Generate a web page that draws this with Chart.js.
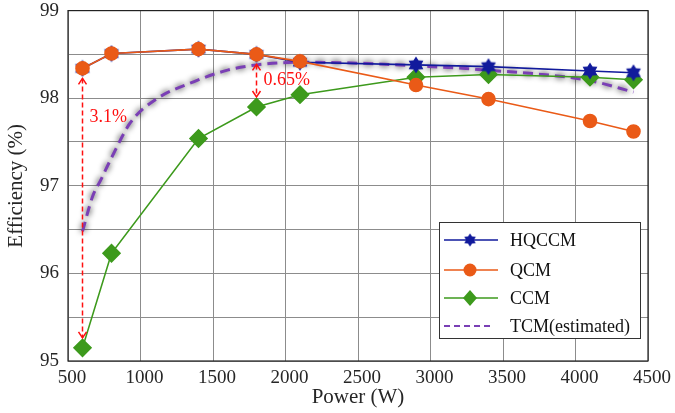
<!DOCTYPE html>
<html>
<head>
<meta charset="utf-8">
<script src="https://cdn.jsdelivr.net/npm/chart.js@4"></script>
<style>
  body { margin: 0; background: #fff; }
  canvas { display: block; }
</style>
</head>
<body>
<canvas id="eff" width="675" height="413"></canvas>
<script>
// measured efficiency vs. output power
const power = [600, 800, 1400, 1800, 2100, 2900, 3400, 4100, 4400];
const hqccm = [98.34, 98.51, 98.56, 98.50, 98.41, 98.38, 98.36, 98.31, 98.29];
const qcm = [98.34, 98.51, 98.56, 98.50, 98.42, 98.15, 97.99, 97.74, 97.62];
const ccm = [95.15, 96.23, 97.54, 97.90, 98.04, 98.24, 98.27, 98.24, 98.21];

// estimated TCM curve
const tcmPower = [600, 670, 730, 800, 930, 1100, 1370, 1600, 1800, 2100, 2500, 2900, 3400, 4100, 4400];
const tcm = [96.48, 96.88, 97.08, 97.32, 97.72, 97.98, 98.19, 98.32, 98.38, 98.41, 98.40, 98.37, 98.32, 98.20, 98.07];

const seriesNames = ["HQCCM", "QCM", "CCM", "TCM(estimated)"];
const xTicks = [500, 4500, 500];   // min, max, step
const yTicks = [95, 99, 0.5];

// gap annotations: [power, upper series, lower series, text]
const gaps = [
  [600, hqccm, ccm, "3.1%"],
  [1800, hqccm, ccm, "0.65%"],
];

const SERIF = "'Liberation Serif', 'Times New Roman', serif";
const NAVY = "#111a9c";
const ORANGE = "#ea5a17";
const GREEN = "#3d9a1c";
const PURPLE = "#7a3fb5";

function toPoints(xs, ys) {
  return xs.map((x, i) => ({ x: x, y: ys[i] }));
}

// six-pointed star marker
function starMarker(size, color) {
  const c = document.createElement("canvas");
  c.width = c.height = size;
  const g = c.getContext("2d");
  const cx = size / 2, cy = size / 2, ro = size / 2 - 0.5, ri = ro * 0.6;
  g.beginPath();
  for (let i = 0; i < 12; i++) {
    const r = i % 2 === 0 ? ro : ri;
    const a = -Math.PI / 2 + i * Math.PI / 6;
    const px = cx + r * Math.cos(a), py = cy + r * Math.sin(a);
    i === 0 ? g.moveTo(px, py) : g.lineTo(px, py);
  }
  g.closePath();
  g.fillStyle = color;
  g.fill();
  return c;
}
const star = starMarker(18, NAVY);

// soft grey glow under the estimated curve
const haloPlugin = {
  id: "halo",
  beforeDatasetDraw(chart, args) {
    const ds = chart.data.datasets[args.index];
    if (!ds.halo) return;
    const ctx = chart.ctx;
    ctx.save();
    ctx.shadowColor = "rgba(0,0,0,1)";
    ctx.shadowBlur = 6;
  },
  afterDatasetDraw(chart, args) {
    if (chart.data.datasets[args.index].halo) chart.ctx.restore();
  },
};

// full axes box
const boxPlugin = {
  id: "box",
  beforeDatasetsDraw(chart) {
    const { ctx, chartArea: a } = chart;
    ctx.save();
    ctx.strokeStyle = "#222";
    ctx.lineWidth = 1.2;
    ctx.strokeRect(a.left, a.top, a.right - a.left, a.bottom - a.top);
    ctx.restore();
  },
};

function arrowHead(ctx, x, y, dir) {
  ctx.beginPath();
  ctx.moveTo(x - 4, y - dir * 6);
  ctx.lineTo(x, y);
  ctx.lineTo(x + 4, y - dir * 6);
  ctx.stroke();
}

// red double arrows showing efficiency gap
const gapPlugin = {
  id: "gaps",
  afterDatasetsDraw(chart) {
    const { ctx, scales } = chart;
    ctx.save();
    ctx.strokeStyle = "#ff1010";
    ctx.fillStyle = "#ff1010";
    ctx.lineWidth = 1.5;
    ctx.font = "18px " + SERIF;
    ctx.textBaseline = "middle";
    gaps.forEach(([p, hi, lo, text]) => {
      const i = power.indexOf(p);
      const x = scales.x.getPixelForValue(p);
      const y1 = scales.y.getPixelForValue(hi[i]) + 10;
      const y2 = scales.y.getPixelForValue(lo[i]) - 10;
      ctx.setLineDash([5, 3]);
      ctx.beginPath();
      ctx.moveTo(x, y1);
      ctx.lineTo(x, y2);
      ctx.stroke();
      ctx.setLineDash([]);
      arrowHead(ctx, x, y1, -1);
      arrowHead(ctx, x, y2, 1);
      const ty = y1 + (y2 - y1) * (p === 600 ? 0.15 : 0.5);
      ctx.fillText(text, x + 7, ty);
    });
    ctx.restore();
  },
};

// boxed legend in the lower right
const legendPlugin = {
  id: "boxLegend",
  afterDraw(chart) {
    const ctx = chart.ctx;
    const bx = 439, by = 222, bw = 201, bh = 116;
    ctx.save();
    ctx.fillStyle = "#fff";
    ctx.fillRect(bx, by, bw, bh);
    ctx.strokeStyle = "#333";
    ctx.lineWidth = 1;
    ctx.strokeRect(bx + 0.5, by + 0.5, bw, bh);
    ctx.font = "18px " + SERIF;
    ctx.textBaseline = "middle";
    const rows = [240, 270, 298, 326];
    chart.data.datasets.forEach((ds, k) => {
      const y = rows[k];
      ctx.strokeStyle = ds.borderColor;
      ctx.lineWidth = ds.halo ? 2 : 1.6;
      ctx.setLineDash(ds.halo ? [6, 4] : []);
      ctx.beginPath();
      ctx.moveTo(444, y);
      ctx.lineTo(ds.halo ? 494 : 498, y);
      ctx.stroke();
      ctx.setLineDash([]);
      const mx = 470;
      ctx.fillStyle = ds.pointBackgroundColor || ds.borderColor;
      if (ds.pointStyle === "circle") {
        ctx.beginPath();
        ctx.arc(mx, y, 6.5, 0, Math.PI * 2);
        ctx.fill();
      } else if (ds.pointStyle === "rectRot") {
        ctx.beginPath();
        ctx.moveTo(mx, y - 8); ctx.lineTo(mx + 7, y); ctx.lineTo(mx, y + 8); ctx.lineTo(mx - 7, y);
        ctx.closePath();
        ctx.fill();
      } else if (ds.pointStyle instanceof HTMLCanvasElement) {
        ctx.drawImage(ds.pointStyle, mx - 7, y - 7, 14, 14);
      }
      ctx.fillStyle = "#111";
      ctx.fillText(ds.label, 510, y + 1);
    });
    ctx.restore();
  },
};

new Chart(document.getElementById("eff"), {
  type: "line",
  data: {
    datasets: [
      {
        label: seriesNames[0],
        data: toPoints(power, hqccm),
        borderColor: NAVY,
        borderWidth: 1.6,
        pointStyle: star,
        pointRadius: 9,
        order: 1,
      },
      {
        label: seriesNames[1],
        data: toPoints(power, qcm),
        borderColor: ORANGE,
        pointBackgroundColor: ORANGE,
        pointBorderColor: ORANGE,
        borderWidth: 1.6,
        pointStyle: "circle",
        pointRadius: 6.5,
        order: 0,
      },
      {
        label: seriesNames[2],
        data: toPoints(power, ccm),
        borderColor: GREEN,
        pointBackgroundColor: GREEN,
        pointBorderColor: GREEN,
        borderWidth: 1.6,
        pointStyle: "rectRot",
        pointRadius: 8.5,
        order: 2,
      },
      {
        label: seriesNames[3],
        data: toPoints(tcmPower, tcm),
        borderColor: PURPLE,
        borderWidth: 3,
        borderDash: [10, 6],
        pointRadius: 0,
        cubicInterpolationMode: "monotone",
        halo: true,
        order: 3,
      },
    ],
  },
  options: {
    responsive: false,
    animation: false,
    layout: { padding: { top: 10, right: 27, left: 0, bottom: 0 } },
    plugins: { legend: { display: false }, tooltip: { enabled: false } },
    scales: {
      x: {
        type: "linear",
        min: xTicks[0],
        max: xTicks[1],
        afterFit(s) {
          s.height = 52;
          s.paddingLeft = 0;
          s.paddingRight = 0;
        },
        ticks: {
          stepSize: xTicks[2],
          color: "#262626",
          padding: 6,
          labelOffset: 4,
          maxRotation: 0,
          font: { family: SERIF, size: 19 },
          callback: (v) => String(v),
        },
        grid: { color: "#8c8c8c", lineWidth: 1, drawTicks: false },
        border: { display: false },
        title: {
          display: true,
          text: "Power (W)",
          color: "#262626",
          font: { family: SERIF, size: 21 },
          padding: { top: 0, bottom: 3 },
        },
      },
      y: {
        min: yTicks[0],
        max: yTicks[1],
        afterFit(s) {
          s.width = 68;
          s.paddingTop = 0;
          s.paddingBottom = 0;
        },
        ticks: {
          stepSize: yTicks[2],
          color: "#262626",
          padding: 9,
          font: { family: SERIF, size: 19 },
          callback: (v) => (Number.isInteger(v) ? String(v) : ""),
        },
        grid: { color: "#8c8c8c", lineWidth: 1, drawTicks: false },
        border: { display: false },
        title: {
          display: true,
          text: "Efficiency (%)",
          color: "#262626",
          font: { family: SERIF, size: 21 },
          padding: { top: 4, bottom: 0 },
        },
      },
    },
  },
  plugins: [haloPlugin, boxPlugin, gapPlugin, legendPlugin],
});
</script>
</body>
</html>
